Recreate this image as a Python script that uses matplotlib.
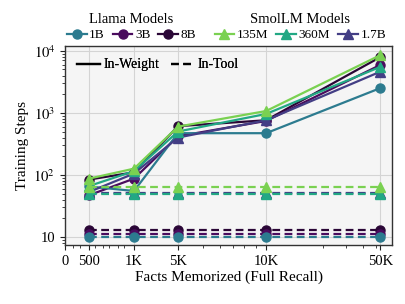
import numpy as np
import matplotlib
matplotlib.use("Agg")
import matplotlib.pyplot as plt
from matplotlib.lines import Line2D
from matplotlib.ticker import FixedLocator, LogLocator, NullFormatter

plt.rcParams['font.family'] = ['Liberation Serif', 'DejaVu Serif']
plt.rcParams['mathtext.fontset'] = 'stix'

# ---------------- data ----------------
facts = [500, 1000, 5000, 10000, 50000]
tick_values = [0, 500, 1000, 5000, 10000, 50000]
tick_labels = ['0', '500', '1K', '5K', '10K', '50K']

llama_names = ['1B', '3B', '8B']
smol_names = ['135M', '360M', '1.7B']

# In-Weight training steps
w_1b = [65, 55, 470, 470, 2500]
w_3b = [47, 87, 420, 740, 5900]
w_8b = [84, 110, 610, 760, 7900]
w_135m = [87, 126, 600, 1070, 8500]
w_360m = [66, 115, 500, 960, 5500]
w_17b = [53, 105, 400, 760, 4600]

# In-Tool training steps
t_1b = [10, 10, 10, 10, 10]
t_3b = [11.1, 11.1, 11.1, 11.1, 11.1]
t_8b = [12.8, 12.8, 12.8, 12.8, 12.8]
t_135m = [64, 64, 64, 64, 64]
t_360m = [50, 50, 50, 50, 50]
t_17b = [51, 51, 51, 51, 51]

# ---------------- style ----------------
colors = {
    '1B': '#2c7b8f', '3B': '#4a0c5e', '8B': '#2a0636',
    '135M': '#7ad151', '360M': '#22a884', '1.7B': '#433e85',
}
markers = {'1B': 'o', '3B': 'o', '8B': 'o', '135M': '^', '360M': '^', '1.7B': '^'}

weights = {'1B': w_1b, '3B': w_3b, '8B': w_8b, '135M': w_135m, '360M': w_360m, '1.7B': w_17b}
tools = {'1B': t_1b, '3B': t_3b, '8B': t_8b, '135M': t_135m, '360M': t_360m, '1.7B': t_17b}

# custom x scale (piecewise mapping of the axis)
knots_x = [0, 500, 1000, 5000, 10000, 50000, 60000]
knots_p = [0, 24, 69, 113, 201, 315, 327]

def fwd(v):
    return np.interp(v, knots_x, knots_p)

def inv(p):
    return np.interp(p, knots_p, knots_x)

fig = plt.figure(figsize=(4.06, 3.04), dpi=100)
ax = fig.add_axes([0.16, 0.194, 0.806, 0.655])
ax.set_facecolor('#f5f5f5')
ax.set_xscale('function', functions=(fwd, inv))
ax.set_yscale('log')

order = ['8B', '3B', '1B', '1.7B', '360M', '135M']
for name in order:
    c = colors[name]
    ax.plot(facts, weights[name], '-', color=c, marker=markers[name], ms=6.5, lw=1.6, zorder=3)
for name in order:
    c = colors[name]
    ax.plot(facts, tools[name], '--', color=c, marker=markers[name], ms=6.5, lw=1.6,
            dashes=(3.5, 2), zorder=3)

ax.set_xlim(0, 60000)
ax.set_ylim(7.4, 12000)

ax.xaxis.set_major_locator(FixedLocator(tick_values))
ax.set_xticklabels(tick_labels)
minor_p = [8, 15, 30, 38, 44, 53, 59, 138, 155, 168, 179, 191, 258, 281, 298, 311]
ax.xaxis.set_minor_locator(FixedLocator(list(inv(np.array(minor_p, dtype=float)))))
ax.xaxis.set_minor_formatter(NullFormatter())

ax.yaxis.set_major_locator(FixedLocator([10, 100, 1000, 10000]))
ax.set_yticklabels(['10', '$10^2$', '$10^3$', '$10^4$'])
ax.yaxis.set_minor_locator(LogLocator(base=10, subs=np.arange(2, 10)))
ax.yaxis.set_minor_formatter(NullFormatter())

ax.tick_params(which='major', length=3.5, width=0.8, labelsize=10.5, direction='out', color='#222222')
ax.tick_params(which='minor', length=2, width=0.6, direction='out', color='#222222')
ax.grid(True, which='major', color='#d4d4d4', lw=0.8)
ax.set_axisbelow(True)
for s in ax.spines.values():
    s.set_color('#333333')
    s.set_linewidth(1.0)

ax.set_xlabel('Facts Memorized (Full Recall)', fontsize=11, labelpad=2)
ax.set_ylabel('Training Steps', fontsize=11, labelpad=3)

# line-style legend inside
style_handles = [Line2D([], [], color='black', lw=1.6, ls='-'),
                 Line2D([], [], color='black', lw=1.6, ls='--', dashes=(3.5, 2))]
leg_in = ax.legend(style_handles, ['In-Weight', 'In-Tool'], loc='upper left', ncol=2,
                   frameon=False, fontsize=10, handlelength=1.6, handletextpad=0.3,
                   columnspacing=0.8, bbox_to_anchor=(0.0, 1.0), borderaxespad=0.5)
ax.add_artist(leg_in)

def model_handles(names):
    return [Line2D([], [], color=colors[n], marker=markers[n], ms=6.5, lw=1.6) for n in names]

leg1 = fig.legend(model_handles(llama_names), llama_names, title='Llama Models', ncol=3,
                  loc='center', bbox_to_anchor=(0.324, 0.91), frameon=False, fontsize=9.5,
                  title_fontsize=10.5, handlelength=1.5, handletextpad=0.2, columnspacing=0.6,
                  borderpad=0.1, labelspacing=0.2)
leg2 = fig.legend(model_handles(smol_names), smol_names, title='SmolLM Models', ncol=3,
                  loc='center', bbox_to_anchor=(0.74, 0.91), frameon=False, fontsize=9.5,
                  title_fontsize=10.5, handlelength=1.5, handletextpad=0.2, columnspacing=0.6,
                  borderpad=0.1, labelspacing=0.2)

fig.savefig('out.png', dpi=100)
